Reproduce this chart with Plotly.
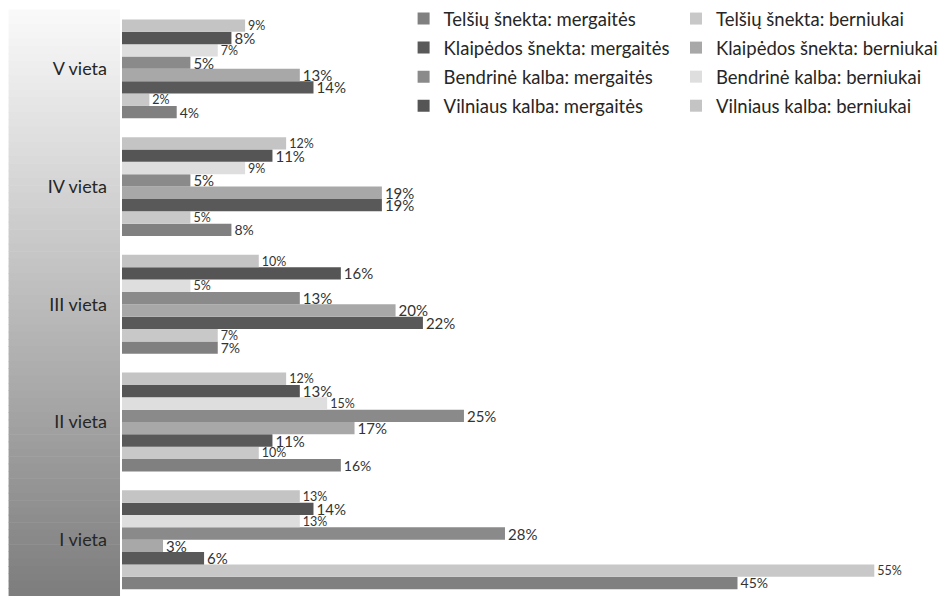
import plotly.graph_objects as go

# Categories (bottom to top)
categories = ["I vieta", "II vieta", "III vieta", "IV vieta", "V vieta"]

# Series, in drawing order within each group (bottom bar first)
series_names = [
    "Telšių šnekta: mergaitės",
    "Telšių šnekta: berniukai",
    "Klaipėdos šnekta: mergaitės",
    "Klaipėdos šnekta: berniukai",
    "Bendrinė kalba: mergaitės",
    "Bendrinė kalba: berniukai",
    "Vilniaus kalba: mergaitės",
    "Vilniaus kalba: berniukai",
]

telsiai_m = [45, 16, 7, 8, 4]
telsiai_b = [55, 10, 7, 5, 2]
klaipeda_m = [6, 11, 22, 19, 14]
klaipeda_b = [3, 17, 20, 19, 13]
bendrine_m = [28, 25, 13, 5, 5]
bendrine_b = [13, 15, 5, 9, 7]
vilnius_m = [14, 13, 16, 11, 8]
vilnius_b = [13, 12, 10, 12, 9]

series_values = [telsiai_m, telsiai_b, klaipeda_m, klaipeda_b,
                 bendrine_m, bendrine_b, vilnius_m, vilnius_b]

colors = ["#808080", "#c8c8c8", "#595959", "#a8a8a8",
          "#8a8a8a", "#dedede", "#555555", "#c4c4c4"]
label_sizes = [14, 12.5, 15, 15, 15, 12.5, 15, 12.5]

W, H = 943, 596
ML, MR, MT, MB = 122, 10, 10, 0
plot_w = W - ML - MR
plot_h = H - MT - MB

fig = go.Figure()
for i, (name, vals) in enumerate(zip(series_names, series_values)):
    fig.add_trace(go.Bar(
        y=categories,
        x=vals,
        name=name,
        orientation="h",
        marker=dict(color=colors[i], line=dict(width=0)),
        text=[f"{v}%" for v in vals],
        textposition="outside",
        constraintext="none",
        textfont=dict(size=label_sizes[i], color="#333333", family="Lato, sans-serif"),
        cliponaxis=False,
        legend="legend" if i % 2 == 0 else "legend2",
        legendgroup=name,
        hoverinfo="skip",
    ))

# Gradient panel behind the category labels
shapes = []
n_strips = 80
panel_x0 = (8 - ML) / plot_w
panel_x1 = (120 - ML) / plot_w
top_c, bot_c = 250, 125
for k in range(n_strips):
    y1 = 1 - k / n_strips
    y0 = 1 - (k + 1) / n_strips
    t = (k + 0.5) / n_strips
    c = int(round(top_c + (bot_c - top_c) * t))
    shapes.append(dict(
        type="rect", xref="paper", yref="paper",
        x0=panel_x0, x1=panel_x1, y0=y0, y1=y1 + 0.001,
        fillcolor=f"rgb({c},{c},{c})", line=dict(width=0), layer="below",
    ))

legend_common = dict(
    font=dict(family="Lato, sans-serif", size=18.5, color="#262626"),
    bgcolor="rgba(255,255,255,0)",
    traceorder="grouped",
    tracegroupgap=2,
    yanchor="top",
    xanchor="left",
    itemclick=False,
    itemdoubleclick=False,
)

fig.update_layout(
    width=W, height=H,
    margin=dict(l=ML, r=MR, t=MT, b=MB),
    paper_bgcolor="white",
    plot_bgcolor="white",
    barmode="group",
    bargap=0.16,
    bargroupgap=0,
    shapes=shapes,
    showlegend=True,
    legend=dict(x=(405 - ML) / plot_w, y=1.017, **legend_common),
    legend2=dict(x=(679 - ML) / plot_w, y=1.017, **legend_common),
    xaxis=dict(range=[0, 59], visible=False, fixedrange=True),
    yaxis=dict(
        type="category",
        categoryorder="array",
        categoryarray=categories,
        range=[-0.478, 4.5],
        showgrid=False,
        zeroline=False,
        showline=False,
        ticks="",
        ticklabelstandoff=14,
        tickfont=dict(family="Lato, sans-serif", size=18, color="#262626"),
        fixedrange=True,
    ),
    font=dict(family="Lato, sans-serif"),
)

fig.write_html("out.html")
